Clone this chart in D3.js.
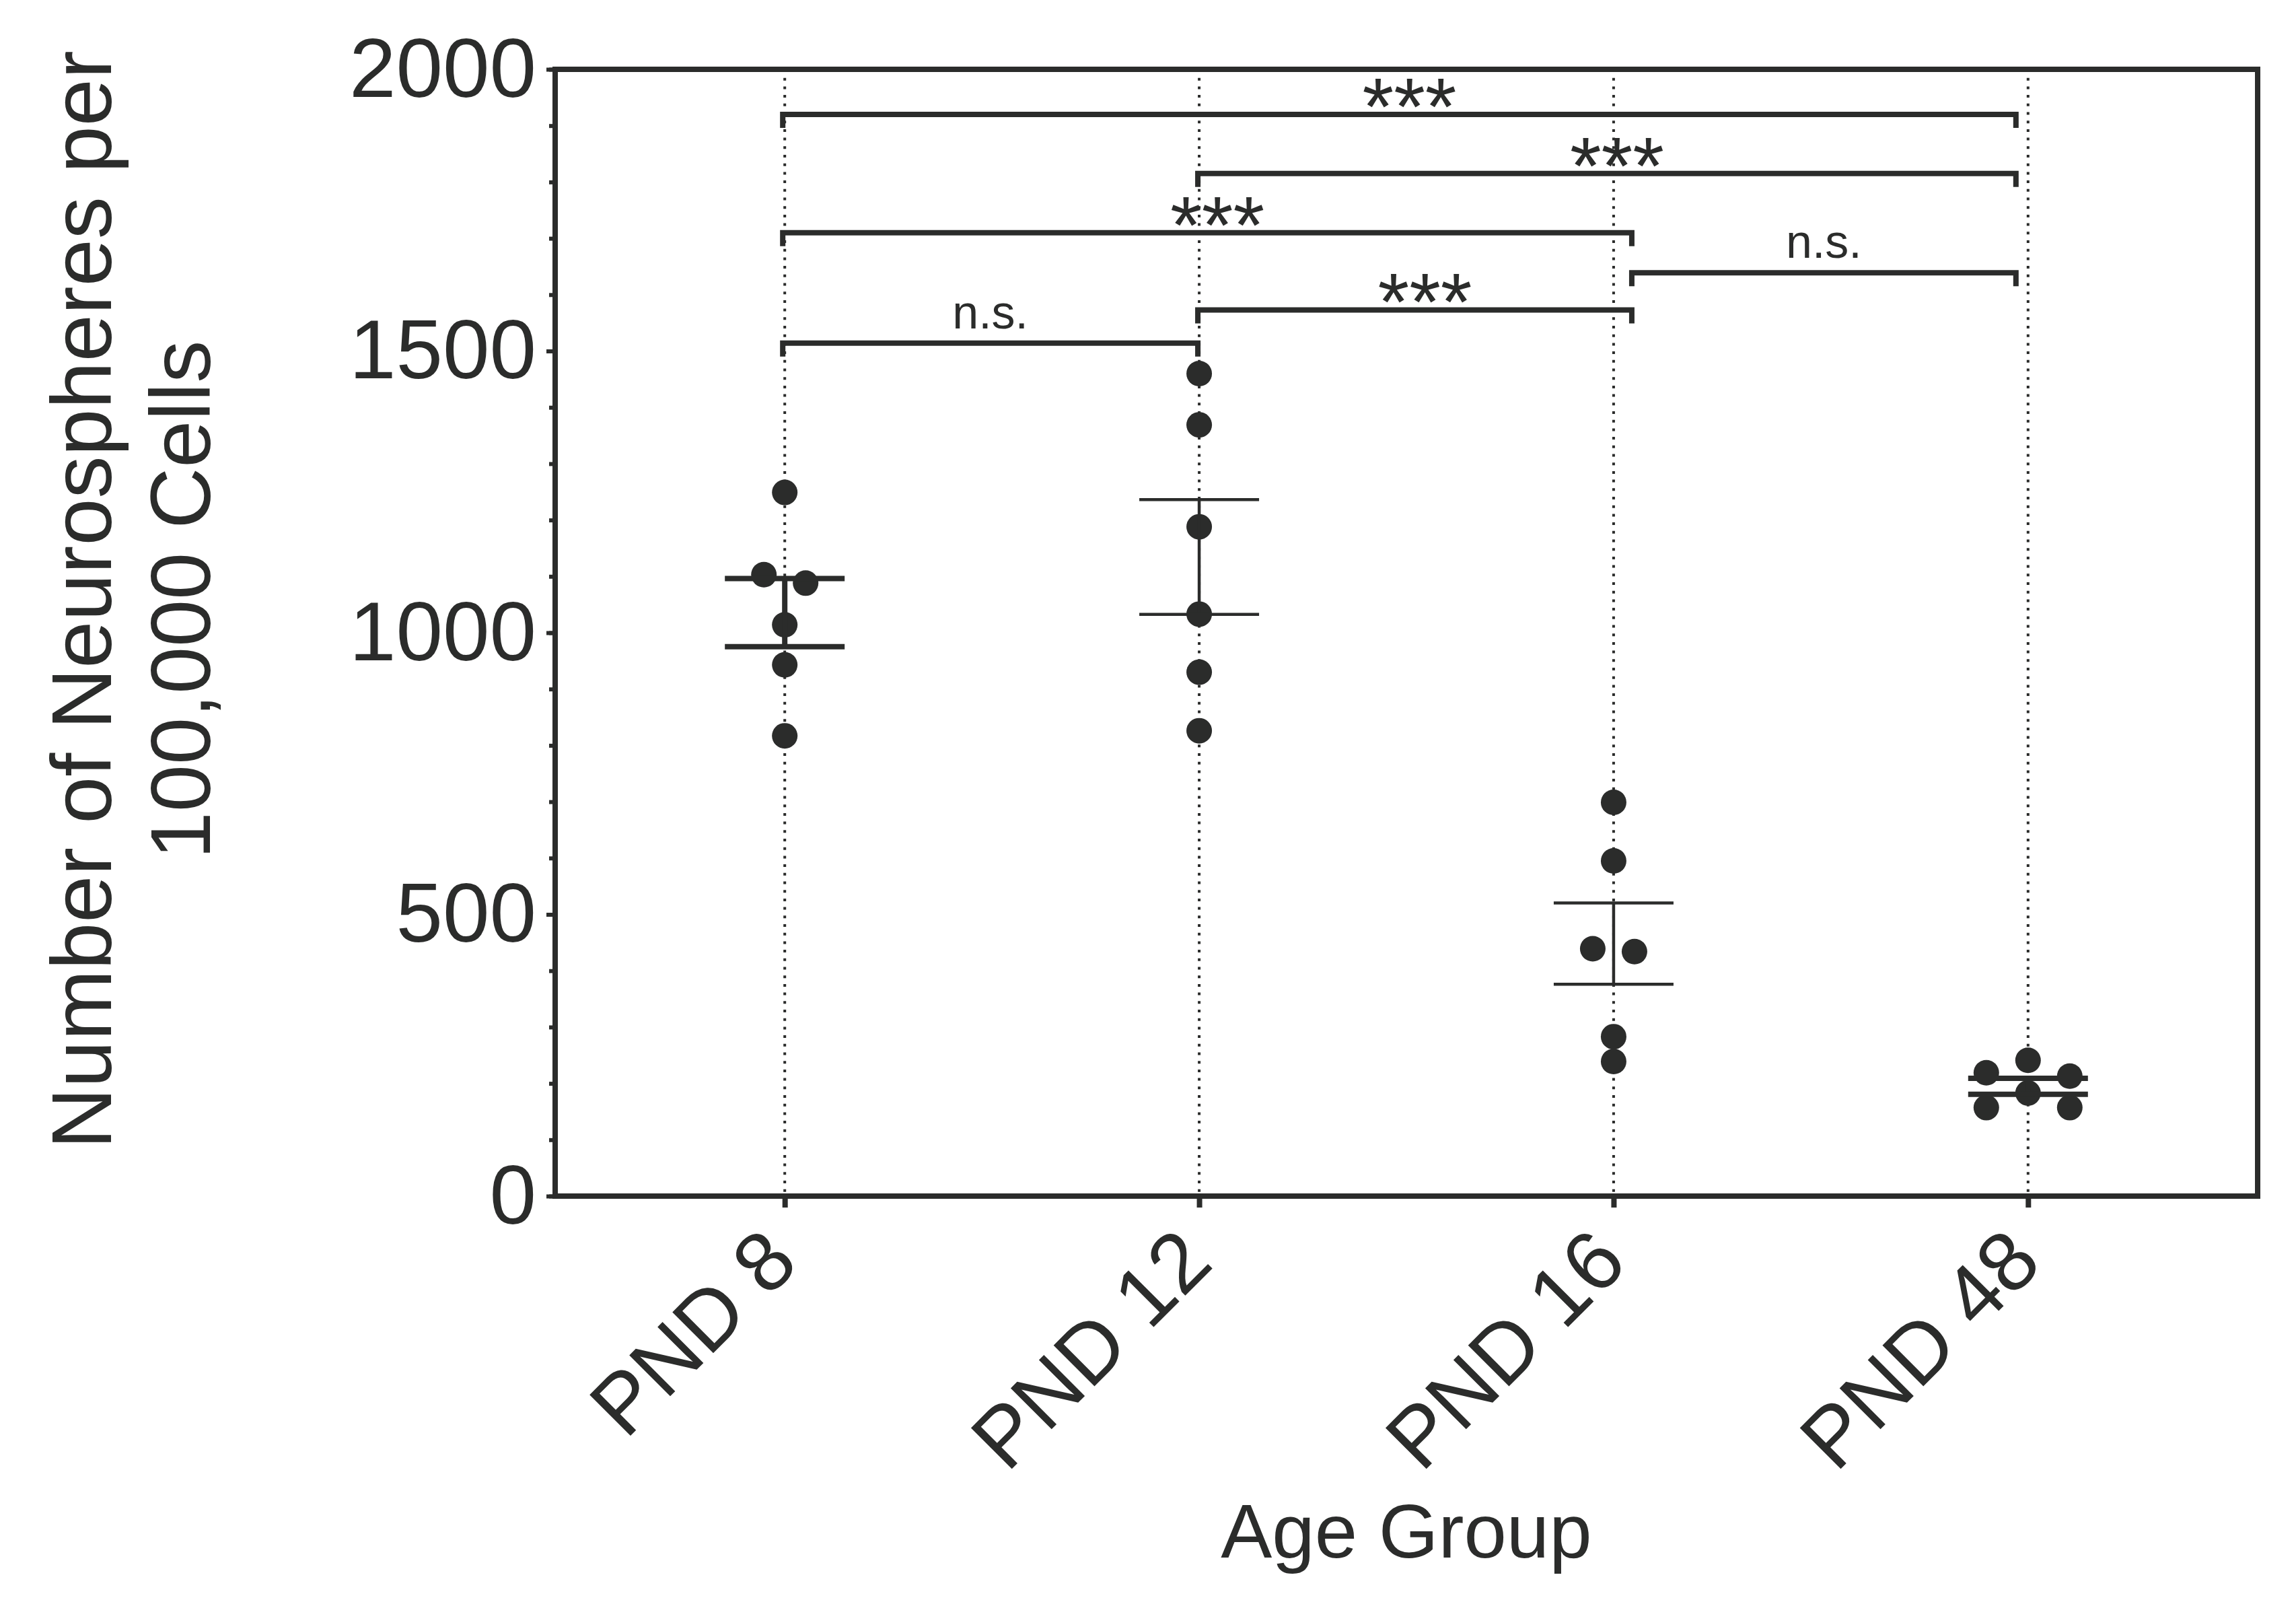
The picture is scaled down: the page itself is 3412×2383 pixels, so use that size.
<!DOCTYPE html>
<html lang="en">
<head>
    <meta charset="UTF-8">
    <title>Neurospheres per 100,000 cells by age group</title>
    <script src="https://d3js.org/d3.v7.min.js"></script>
    <style>
        body { margin: 0; background: #fff; }
        svg { display: block; }
        text { font-family: "Liberation Sans", Arial, sans-serif; fill: #2b2c2b; }
    </style>
</head>
<body>
    <div id="container"></div>
    <script>

        // data
        const categories = ["PND 8", "PND 12", "PND 16", "PND 48"];
        const pnd8  = [1249, 1103, 1088, 1014, 943, 817];
        const pnd12 = [1460, 1369, 1188, 1033, 930, 826];
        const pnd16 = [699, 595, 439, 434, 283, 239];
        const pnd48 = [241, 219, 213, 183, 157, 157];
        const groups = [pnd8, pnd12, pnd16, pnd48];

        const yMajorTicks = [0, 500, 1000, 1500, 2000];

        // significance brackets: from group, to group, height (y units), label
        const compFrom  = [0, 1, 0, 2, 1, 0];
        const compTo    = [3, 3, 2, 3, 2, 1];
        const compLevel = [1920, 1815, 1710, 1639, 1573, 1514];
        const compLabel = ["***", "***", "***", "n.s.", "***", "n.s."];

        // layout / style
        const W = 3412, H = 2383;
        const plot = {left: 825, right: 3355, top: 103, bottom: 1777};
        const ink = "#2b2c2b";
        const errWidth = [8, 4.5, 4.5, 8];          // stroke of the SEM bars per group
        const bracketNudge = [-3, -2, 27, -18];     // where the bracket legs sit vs. group centre
        const dotR = 19, spread = 62;

        const svg = d3.select("#container").append("svg")
            .attr("width", W).attr("height", H);
        svg.append("rect").attr("width", W).attr("height", H).attr("fill", "#fff");

        const x = d3.scalePoint().domain(categories)
            .range([plot.left, plot.right]).padding(0.554);
        const y = d3.scaleLinear().domain([0, 2000])
            .range([plot.bottom, plot.top]);

        // dotted vertical guides at each group
        svg.append("g").selectAll("line")
            .data(categories)
            .enter().append("line")
            .attr("x1", d => x(d)).attr("x2", d => x(d))
            .attr("y1", plot.top).attr("y2", plot.bottom)
            .attr("stroke", ink).attr("stroke-width", 4)
            .attr("stroke-dasharray", "4 8.7");

        // y axis: minor + major ticks
        const yMinor = svg.append("g").attr("transform", `translate(${plot.left},0)`)
            .call(d3.axisLeft(y).ticks(20).tickSize(9).tickFormat(""));
        yMinor.select(".domain").remove();
        yMinor.selectAll("line").attr("stroke", ink).attr("stroke-width", 6);

        const yAxis = svg.append("g").attr("transform", `translate(${plot.left},0)`)
            .call(d3.axisLeft(y).tickValues(yMajorTicks).tickSize(13).tickPadding(15)
                .tickFormat(d3.format("d")));
        yAxis.select(".domain").remove();
        yAxis.selectAll("line").attr("stroke", ink).attr("stroke-width", 6);
        yAxis.selectAll("text")
            .attr("font-size", 125)
            .attr("fill", ink)
            .attr("font-family", "Liberation Sans, Arial, sans-serif");

        // x axis ticks and rotated labels
        const xAxis = svg.append("g").attr("transform", `translate(0,${plot.bottom})`)
            .call(d3.axisBottom(x).tickSize(17).tickFormat(""));
        xAxis.select(".domain").remove();
        xAxis.selectAll("line").attr("stroke", ink).attr("stroke-width", 8);

        svg.append("g").selectAll("text")
            .data(categories)
            .enter().append("text")
            .attr("transform", d => `translate(${x(d) + 24},1880) rotate(-45)`)
            .attr("text-anchor", "end")
            .attr("font-size", 125)
            .text(d => d);

        // frame
        svg.append("rect")
            .attr("x", plot.left).attr("y", plot.top)
            .attr("width", plot.right - plot.left)
            .attr("height", plot.bottom - plot.top)
            .attr("fill", "none").attr("stroke", ink).attr("stroke-width", 8);

        // spread points that would overlap, like a scatter dot plot
        function layout(values, cx) {
            const pts = values.map((v, i) => ({v: v, py: y(v), off: 0, i: i}))
                .sort((a, b) => b.v - a.v);
            const minGap = dotR * 1.8;
            const placed = [];
            pts.forEach(p => {
                const tries = [0, -spread, spread, -2 * spread, 2 * spread];
                for (const o of tries) {
                    const hit = placed.some(q => q.off === o && Math.abs(q.py - p.py) < minGap);
                    if (!hit) { p.off = o; break; }
                }
                placed.push(p);
            });
            // centre each run of touching points
            let run = [pts[0]];
            const runs = [];
            for (let k = 1; k < pts.length; k++) {
                if (pts[k].py - pts[k - 1].py < minGap) run.push(pts[k]);
                else { runs.push(run); run = [pts[k]]; }
            }
            runs.push(run);
            runs.forEach(r => {
                const m = d3.mean(r, p => p.off);
                if (Math.abs(m) > 0.01) {
                    const offs = r.map(p => p.off - m).sort((a, b) => a - b);
                    r.forEach((p, k) => { p.off = offs[k]; });
                }
            });
            return pts.map(p => ({x: cx + p.off, y: p.py}));
        }

        groups.forEach((vals, gi) => {
            const cx = x(categories[gi]);
            const g = svg.append("g");

            g.selectAll("circle")
                .data(layout(vals, cx))
                .enter().append("circle")
                .attr("cx", d => d.x).attr("cy", d => d.y)
                .attr("r", dotR).attr("fill", ink);

            // mean +/- SEM
            const m = d3.mean(vals);
            const sem = d3.deviation(vals) / Math.sqrt(vals.length);
            const lo = y(m - sem), hi = y(m + sem);
            const sw = errWidth[gi];
            g.append("line")
                .attr("x1", cx).attr("x2", cx).attr("y1", lo).attr("y2", hi)
                .attr("stroke", ink).attr("stroke-width", sw);
            [lo, hi].forEach(yy => {
                g.append("line")
                    .attr("x1", cx - 89).attr("x2", cx + 89)
                    .attr("y1", yy).attr("y2", yy)
                    .attr("stroke", ink).attr("stroke-width", sw);
            });
        });

        // significance brackets
        const br = svg.append("g");
        compFrom.forEach((f, k) => {
            const x1 = x(categories[f]) + bracketNudge[f];
            const x2 = x(categories[compTo[k]]) + bracketNudge[compTo[k]];
            const yy = y(compLevel[k]);
            br.append("path")
                .attr("d", `M${x1},${yy + 20}V${yy}H${x2}V${yy + 20}`)
                .attr("fill", "none").attr("stroke", ink).attr("stroke-width", 8)
                .attr("stroke-linejoin", "miter");
            const stars = compLabel[k] === "***";
            br.append("text")
                .attr("x", (x1 + x2) / 2 + (stars ? 15 : 0))
                .attr("y", stars ? yy + 30 : yy - 22)
                .attr("text-anchor", "middle")
                .attr("font-size", stars ? 120 : 70)
                .text(compLabel[k]);
        });

        // axis titles
        svg.append("text")
            .attr("x", (plot.left + plot.right) / 2).attr("y", 2314)
            .attr("text-anchor", "middle").attr("font-size", 114)
            .text("Age Group");

        const yTitle = ["Number of Neurospheres per", "100,000 Cells"];
        svg.append("g").selectAll("text")
            .data(yTitle)
            .enter().append("text")
            .attr("transform", (d, i) => `translate(${165 + i * 147},891) rotate(-90)`)
            .attr("text-anchor", "middle")
            .attr("font-size", 126)
            .text(d => d);

    </script>
</body>
</html>
